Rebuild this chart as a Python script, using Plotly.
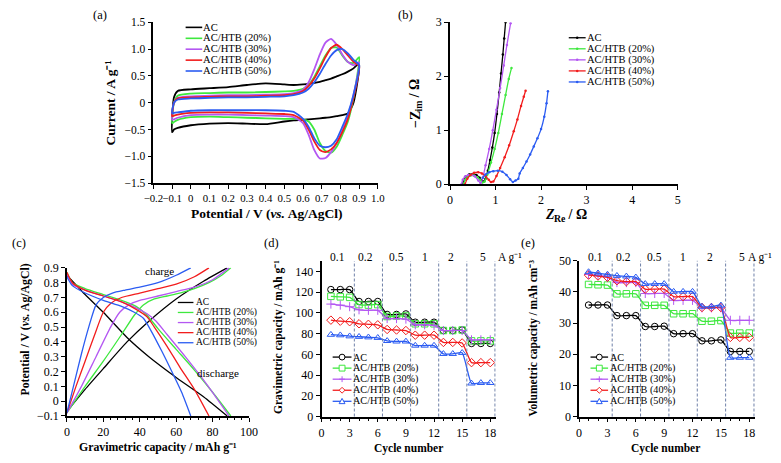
import plotly.graph_objects as go

W, H = 781, 463
FONT = "Liberation Serif, Times New Roman, serif"

names = ["AC", "AC/HTB (20%)", "AC/HTB (30%)", "AC/HTB (40%)", "AC/HTB (50%)"]
colors = ["#000000", "#3ee83e", "#b457f2", "#f21d1d", "#2b5cf2"]
symbols = ["circle-open", "square-open", "cross-thin-open", "diamond-open", "triangle-up-open"]

# ---------------- (a) cyclic voltammetry ----------------
cv_e_up = [-0.1, -0.09, -0.07, 0.0, 0.1, 0.2, 0.3, 0.4, 0.5, 0.55, 0.6, 0.63, 0.66, 0.69, 0.72, 0.75, 0.78, 0.81, 0.84, 0.87, 0.9]
cv_e_dn = [0.9, 0.87, 0.84, 0.81, 0.78, 0.75, 0.72, 0.69, 0.66, 0.63, 0.6, 0.55, 0.5, 0.4, 0.3, 0.2, 0.1, 0.0, -0.07, -0.09, -0.1]
cv_ac_up = [-0.55, 0.1, 0.22, 0.25, 0.27, 0.29, 0.33, 0.36, 0.34, 0.33, 0.34, 0.35, 0.37, 0.39, 0.42, 0.45, 0.49, 0.53, 0.58, 0.64, 0.73]
cv_ac_dn = [0.73, 0.0, -0.2, -0.23, -0.25, -0.27, -0.28, -0.29, -0.3, -0.31, -0.32, -0.33, -0.35, -0.4, -0.39, -0.38, -0.39, -0.42, -0.47, -0.5, -0.55]
cv_20_up = [-0.38, 0.0, 0.13, 0.17, 0.18, 0.19, 0.19, 0.2, 0.21, 0.22, 0.26, 0.33, 0.48, 0.68, 0.88, 1.02, 1.03, 0.88, 0.76, 0.74, 0.85]
cv_20_dn = [0.85, 0.1, -0.35, -0.6, -0.82, -0.93, -0.9, -0.75, -0.5, -0.35, -0.31, -0.3, -0.3, -0.29, -0.28, -0.27, -0.26, -0.27, -0.32, -0.36, -0.38]
cv_30_up = [-0.32, 0.0, 0.09, 0.12, 0.13, 0.14, 0.14, 0.15, 0.16, 0.18, 0.24, 0.38, 0.62, 0.9, 1.12, 1.19, 1.08, 0.9, 0.76, 0.7, 0.75]
cv_30_dn = [0.75, 0.15, -0.25, -0.52, -0.75, -0.92, -1.03, -1.04, -0.88, -0.6, -0.38, -0.27, -0.25, -0.24, -0.23, -0.22, -0.22, -0.23, -0.28, -0.31, -0.32]
cv_40_up = [-0.25, 0.0, 0.08, 0.1, 0.11, 0.12, 0.12, 0.13, 0.14, 0.16, 0.22, 0.31, 0.45, 0.64, 0.85, 1.02, 1.08, 1.0, 0.88, 0.76, 0.68]
cv_40_dn = [0.68, 0.1, -0.3, -0.55, -0.75, -0.87, -0.92, -0.88, -0.72, -0.5, -0.33, -0.23, -0.21, -0.2, -0.19, -0.18, -0.18, -0.19, -0.22, -0.24, -0.25]
cv_50_up = [-0.2, 0.0, 0.06, 0.08, 0.09, 0.1, 0.1, 0.11, 0.12, 0.14, 0.19, 0.26, 0.38, 0.54, 0.72, 0.88, 0.98, 1.0, 0.92, 0.8, 0.7]
cv_50_dn = [0.7, 0.15, -0.2, -0.45, -0.68, -0.8, -0.83, -0.8, -0.66, -0.45, -0.3, -0.17, -0.15, -0.14, -0.14, -0.14, -0.14, -0.15, -0.18, -0.19, -0.2]
cv_up = [cv_ac_up, cv_20_up, cv_30_up, cv_40_up, cv_50_up]
cv_dn = [cv_ac_dn, cv_20_dn, cv_30_dn, cv_40_dn, cv_50_dn]
cv_xticks = [-0.2, -0.1, 0, 0.1, 0.2, 0.3, 0.4, 0.5, 0.6, 0.7, 0.8, 0.9, 1.0]
cv_xtext = ["\u22120.2", "\u22120.1", "0", "0.1", "0.2", "0.3", "0.4", "0.5", "0.6", "0.7", "0.8", "0.9", "1.0"]
cv_yticks = [-1.5, -1.0, -0.5, 0, 0.5, 1.0, 1.5]
cv_ytext = ["\u22121.5", "\u22121.0", "\u22120.5", "0", "0.5", "1.0", "1.5"]

# ---------------- (b) Nyquist ----------------
eis_re_ac = [0.28, 0.30, 0.35, 0.42, 0.5, 0.58, 0.65, 0.70, 0.74, 0.78, 0.83, 0.88, 0.93, 0.98, 1.03, 1.08, 1.12, 1.16, 1.19, 1.22]
eis_im_ac = [0.0, 0.08, 0.14, 0.18, 0.19, 0.17, 0.12, 0.07, 0.05, 0.1, 0.25, 0.45, 0.68, 0.95, 1.3, 1.7, 2.05, 2.4, 2.7, 3.0]
eis_re_20 = [0.30, 0.33, 0.38, 0.45, 0.52, 0.6, 0.66, 0.71, 0.76, 0.82, 0.9, 0.98, 1.06, 1.14, 1.22, 1.29, 1.35]
eis_im_20 = [0.0, 0.08, 0.13, 0.16, 0.16, 0.13, 0.08, 0.03, 0.05, 0.18, 0.4, 0.65, 0.95, 1.3, 1.65, 1.95, 2.15]
eis_re_30 = [0.25, 0.28, 0.33, 0.4, 0.47, 0.55, 0.62, 0.67, 0.72, 0.78, 0.86, 0.94, 1.02, 1.1, 1.18, 1.25, 1.33]
eis_im_30 = [0.0, 0.08, 0.14, 0.17, 0.17, 0.14, 0.07, 0.02, 0.12, 0.35, 0.65, 1.0, 1.38, 1.78, 2.2, 2.58, 2.98]
eis_re_40 = [0.33, 0.38, 0.45, 0.53, 0.62, 0.7, 0.78, 0.85, 0.9, 0.95, 1.02, 1.1, 1.2, 1.3, 1.4, 1.48, 1.56, 1.62, 1.66]
eis_im_40 = [0.0, 0.1, 0.17, 0.21, 0.22, 0.2, 0.15, 0.08, 0.04, 0.05, 0.15, 0.3, 0.5, 0.72, 0.98, 1.2, 1.45, 1.62, 1.73]
eis_re_50 = [0.72, 0.78, 0.86, 0.95, 1.05, 1.15, 1.24, 1.32, 1.38, 1.44, 1.5, 1.53, 1.6, 1.68, 1.76, 1.84, 1.92, 2.0, 2.07, 2.12, 2.15]
eis_im_50 = [0.12, 0.18, 0.22, 0.24, 0.25, 0.23, 0.17, 0.09, 0.04, 0.07, 0.1, 0.2, 0.3, 0.42, 0.55, 0.7, 0.85, 1.02, 1.25, 1.5, 1.72]
eis_re = [eis_re_ac, eis_re_20, eis_re_30, eis_re_40, eis_re_50]
eis_im = [eis_im_ac, eis_im_20, eis_im_30, eis_im_40, eis_im_50]

# ---------------- (c) charge / discharge ----------------
ch_q_ac = [0, 10, 20, 33, 45, 60, 75, 88]
ch_v_ac = [-0.07, 0.08, 0.22, 0.40, 0.54, 0.69, 0.81, 0.9]
ch_q_20 = [0, 10, 20, 30, 37, 42, 48, 55, 62, 70, 78, 85, 90]
ch_v_20 = [-0.08, 0.1, 0.27, 0.45, 0.58, 0.65, 0.69, 0.71, 0.73, 0.76, 0.8, 0.85, 0.9]
ch_q_30 = [0, 8, 16, 24, 29, 34, 40, 50, 60, 70, 80, 89]
ch_v_30 = [-0.08, 0.1, 0.3, 0.5, 0.6, 0.65, 0.68, 0.71, 0.74, 0.77, 0.82, 0.9]
ch_q_40 = [0, 5, 10, 15, 20, 24, 30, 40, 50, 60, 70, 78]
ch_v_40 = [-0.08, 0.1, 0.27, 0.44, 0.6, 0.66, 0.7, 0.73, 0.76, 0.79, 0.84, 0.9]
ch_q_50 = [0, 4, 8, 12, 16, 20, 25, 32, 40, 50, 60, 68]
ch_v_50 = [-0.08, 0.12, 0.32, 0.5, 0.65, 0.7, 0.73, 0.75, 0.77, 0.8, 0.85, 0.9]
dc_q_ac = [0, 10, 20, 33, 45, 60, 75, 88]
dc_v_ac = [0.85, 0.72, 0.6, 0.43, 0.3, 0.16, 0.03, -0.1]
dc_q_20 = [0, 3, 10, 20, 30, 38, 44, 50, 60, 70, 80, 90]
dc_v_20 = [0.87, 0.8, 0.76, 0.72, 0.68, 0.64, 0.58, 0.49, 0.35, 0.21, 0.06, -0.1]
dc_q_30 = [0, 3, 10, 20, 30, 38, 44, 49, 55, 65, 77, 89]
dc_v_30 = [0.86, 0.79, 0.75, 0.71, 0.67, 0.63, 0.59, 0.54, 0.45, 0.3, 0.11, -0.1]
dc_q_40 = [0, 3, 10, 20, 30, 38, 44, 48, 55, 62, 70, 78]
dc_v_40 = [0.87, 0.8, 0.75, 0.71, 0.67, 0.62, 0.57, 0.5, 0.37, 0.23, 0.08, -0.1]
dc_q_50 = [0, 3, 10, 20, 30, 37, 42, 46, 52, 58, 63, 68]
dc_v_50 = [0.84, 0.78, 0.73, 0.68, 0.64, 0.6, 0.56, 0.48, 0.34, 0.19, 0.06, -0.1]
ch_q = [ch_q_ac, ch_q_20, ch_q_30, ch_q_40, ch_q_50]
ch_v = [ch_v_ac, ch_v_20, ch_v_30, ch_v_40, ch_v_50]
dc_q = [dc_q_ac, dc_q_20, dc_q_30, dc_q_40, dc_q_50]
dc_v = [dc_v_ac, dc_v_20, dc_v_30, dc_v_40, dc_v_50]
gcd_yticks = [-0.1, 0, 0.1, 0.2, 0.3, 0.4, 0.5, 0.6, 0.7, 0.8, 0.9]
gcd_ytext = ["\u22120.1", "0", "0.1", "0.2", "0.3", "0.4", "0.5", "0.6", "0.7", "0.8", "0.9"]

# ---------------- (d) & (e) rate capability ----------------
cycles = list(range(1, 19))
grav_ac = [122.5, 122.5, 122.5, 111, 111, 111, 98.5, 98.5, 99, 91, 91, 91, 83, 83, 83.5, 70.5, 70.5, 70.5]
grav_20 = [116, 115.5, 115, 108, 107.5, 108, 96.5, 97, 97, 89.5, 89.5, 89.5, 83, 83, 83.5, 73, 73, 73]
grav_30 = [108.5, 107.5, 106, 103, 102.5, 102.5, 94.5, 94.5, 94, 88.5, 88.5, 88, 83, 83, 83, 74, 74, 74]
grav_40 = [93, 92, 91.5, 89.5, 89, 88.5, 84, 83.5, 83, 78.5, 78.5, 78.5, 71.5, 71.5, 71, 52, 52, 52]
grav_50 = [79, 78.5, 77.5, 77, 76.5, 76, 73, 72.5, 72.5, 68.5, 68.5, 68.5, 60.5, 60.5, 61.5, 32, 32.5, 32.5]
vol_ac = [35.8, 35.8, 35.8, 32.4, 32.4, 32.4, 28.9, 28.9, 29.0, 26.6, 26.6, 26.6, 24.3, 24.3, 24.6, 20.9, 20.9, 20.9]
vol_20 = [42.4, 42.3, 42.2, 39.4, 39.4, 39.4, 35.7, 35.7, 35.7, 33.0, 33.0, 33.0, 30.6, 30.6, 30.8, 26.8, 26.8, 26.8]
vol_30 = [45.6, 45.2, 44.8, 43.0, 43.0, 43.0, 39.5, 39.5, 39.5, 37.3, 37.3, 37.3, 34.9, 34.9, 34.9, 30.9, 30.9, 30.9]
vol_40 = [45.4, 45.1, 44.7, 43.6, 43.3, 43.3, 40.9, 40.9, 40.9, 38.5, 38.5, 38.5, 35.0, 35.0, 35.0, 25.4, 25.4, 25.4]
vol_50 = [46.4, 46.0, 45.6, 45.2, 45.0, 44.7, 42.6, 42.6, 42.6, 40.1, 40.1, 40.1, 35.3, 35.3, 35.7, 18.9, 18.9, 18.9]
grav = [grav_ac, grav_20, grav_30, grav_40, grav_50]
vol = [vol_ac, vol_20, vol_30, vol_40, vol_50]
rate_labels = ["0.1", "0.2", "0.5", "1", "2", "5"]
rate_label_pos = [1.7, 4.7, 8.0, 11.0, 13.8, 17.2]
rate_bounds = [3.5, 6.5, 9.5, 12.5, 15.5, 18.5]
rate_unit = "A g\u207b\u00b9"

# ---------------- helpers ----------------
def px(x):
    return x / W


def py(y):
    return 1 - y / H


fig = go.Figure()

for i in range(5):
    fig.add_trace(go.Scatter(x=cv_e_up + cv_e_dn[1:], y=cv_up[i] + cv_dn[i][1:], mode="lines",
                             line=dict(color=colors[i], width=1.8, shape="spline", smoothing=0.6),
                             xaxis="x", yaxis="y", showlegend=False, name=names[i]))
for i in range(5):
    fig.add_trace(go.Scatter(x=eis_re[i], y=eis_im[i], mode="lines+markers",
                             line=dict(color=colors[i], width=1.3, shape="spline", smoothing=0.6),
                             marker=dict(size=2.5, color=colors[i]),
                             xaxis="x2", yaxis="y2", showlegend=False, name=names[i]))
for i in range(5):
    fig.add_trace(go.Scatter(x=ch_q[i], y=ch_v[i], mode="lines",
                             line=dict(color=colors[i], width=1.3, shape="spline", smoothing=0.6),
                             xaxis="x3", yaxis="y3", showlegend=False, name=names[i]))
    fig.add_trace(go.Scatter(x=dc_q[i], y=dc_v[i], mode="lines",
                             line=dict(color=colors[i], width=1.3, shape="spline", smoothing=0.6),
                             xaxis="x3", yaxis="y3", showlegend=False, name=names[i]))
for i in range(5):
    fig.add_trace(go.Scatter(x=cycles, y=grav[i], mode="lines+markers",
                             line=dict(color=colors[i], width=1.3, shape="spline", smoothing=0.5),
                             marker=dict(symbol=symbols[i], size=6.5, color=colors[i], line=dict(width=1, color=colors[i])),
                             xaxis="x4", yaxis="y4", showlegend=False, name=names[i]))
for i in range(5):
    fig.add_trace(go.Scatter(x=cycles, y=vol[i], mode="lines+markers",
                             line=dict(color=colors[i], width=1.3, shape="spline", smoothing=0.5),
                             marker=dict(symbol=symbols[i], size=6.5, color=colors[i], line=dict(width=1, color=colors[i])),
                             xaxis="x5", yaxis="y5", showlegend=False, name=names[i]))


def axis(dom, rng, anchor, size, **kw):
    d = dict(domain=dom, range=rng, anchor=anchor, showline=True, linecolor="black", linewidth=1.6,
             ticks="outside", ticklen=4, tickwidth=1.2, tickcolor="black", showgrid=False, zeroline=False,
             tickangle=0, tickfont=dict(family=FONT, size=size, color="black"))
    d.update(kw)
    return d


minor_x = dict(ticks="outside", ticklen=2.5, tickwidth=1, tickcolor="black")

layout = dict(
    width=W, height=H, margin=dict(l=0, r=0, t=0, b=0), paper_bgcolor="white", plot_bgcolor="rgba(0,0,0,0)",
    font=dict(family=FONT, color="black"), showlegend=False,
    xaxis=axis([px(147), px(377)], [-0.2, 1.0], "y", 10.8, tickvals=cv_xticks, ticktext=cv_xtext),
    yaxis=axis([py(181.7), py(15.7)], [-1.5, 1.5], "x", 11.5, tickvals=cv_yticks, ticktext=cv_ytext),
    xaxis2=axis([px(451), px(684.3)], [0, 5], "y2", 12, dtick=1),
    yaxis2=axis([py(182.7), py(15.7)], [0, 3], "x2", 12, dtick=1),
    xaxis3=axis([px(58.3), px(245)], [0, 100], "y3", 12, dtick=20, minor=dict(dtick=4, **minor_x)),
    yaxis3=axis([py(421.7), py(269)], [-0.1, 0.9], "x3", 12, tickvals=gcd_yticks, ticktext=gcd_ytext),
    xaxis4=axis([px(319.3), px(498)], [0, 18.6], "y4", 12, tickvals=[0, 3, 6, 9, 12, 15, 18], minor=dict(dtick=1, **minor_x)),
    yaxis4=axis([py(422.3), py(262)], [0, 150], "x4", 12, tickvals=[0, 20, 40, 60, 80, 100, 120, 140]),
    xaxis5=axis([px(583.3), px(763.5)], [0, 18.6], "y5", 12, tickvals=[0, 3, 6, 9, 12, 15, 18], minor=dict(dtick=1, **minor_x)),
    yaxis5=axis([py(422.3), py(261.7)], [0, 50], "x5", 12, dtick=10),
)

shapes = []
annotations = []


def text(x, y, s, size, angle=0, anchor="center", bold=False, italic=False):
    annotations.append(dict(x=px(x), y=py(y), xref="paper", yref="paper", text=s, showarrow=False,
                            xanchor=anchor, yanchor="middle", textangle=angle, borderpad=0,
                            font=dict(family=FONT, size=size, color="black", weight="bold" if bold else "normal",
                                      style="italic" if italic else "normal")))


# panel labels
for lab, x, y in [("(a)", 92, 8), ("(b)", 405, 8), ("(c)", 9, 243), ("(d)", 268, 243), ("(e)", 531, 243)]:
    text(x, y, lab, 12.5)

# axis titles
text(263, 213, "Potential / V (<i>vs.</i> Ag/AgCl)", 13.5, bold=True)
text(103, 99, "Current / A g\u207b\u00b9", 13.5, angle=-90, bold=True)
# Z_Re / Ohm (pieces so the subscript sits lower)
text(547.5, 214, "Z", 14, anchor="left", bold=True, italic=True)
text(556.5, 218, "Re", 9.8, anchor="left", bold=True)
text(568, 214, " / \u03a9", 14, anchor="left", bold=True)
# -Z_im / Ohm rotated
text(415, 115.5, "\u2212Z", 14, angle=-90, bold=True)
text(419, 101.8, "im", 9.8, angle=-90, bold=True)
text(415, 85.5, " / \u03a9", 14, angle=-90, bold=True)
text(152, 454, "Gravimetric capacity / mAh g\u207b\u00b9", 11.8, bold=True)
text(15, 333, "Potential / V (<i>vs.</i> Ag/AgCl)", 11.8, angle=-90, bold=True)
text(408, 455, "Cycle number", 11.5, bold=True)
text(275, 340, "Gravimetric capacity / mAh g\u207b\u00b9", 11.5, angle=-90, bold=True)
text(672, 455, "Cycle number", 11.5, bold=True)
text(537, 341, "Volumetric capacity / mAh cm\u207b\u00b3", 11.5, angle=-90, bold=True)

text(153, 272, "charge", 11)
text(213, 377, "discharge", 11)

# rate annotations and dashed separators
for xa, ya, unit_x in [("x4", "y4", 512), ("x5", "y5", 769)]:
    for b in rate_bounds:
        shapes.append(dict(type="line", xref=xa, yref=ya + " domain", x0=b, x1=b, y0=0, y1=1,
                           line=dict(color="#6f80a8", width=1, dash="3px,2px")))
    for lab, pos in zip(rate_labels, rate_label_pos):
        annotations.append(dict(x=pos, y=py(258.3), xref=xa, yref="paper", text=lab, showarrow=False,
                                xanchor="center", yanchor="middle", borderpad=0,
                                font=dict(family=FONT, size=11.5, color="black")))
    text(unit_x, 258.3, rate_unit, 11.5)


def marker_shape(sym, cx, cy, r, col):
    x0, x1 = px(cx - r), px(cx + r)
    y0, y1 = py(cy + r), py(cy - r)
    ln = dict(color=col, width=1)
    if sym.startswith("circle"):
        shapes.append(dict(type="circle", xref="paper", yref="paper", x0=x0, x1=x1, y0=y0, y1=y1, line=ln,
                           fillcolor="white"))
    elif sym.startswith("square"):
        shapes.append(dict(type="rect", xref="paper", yref="paper", x0=x0, x1=x1, y0=y0, y1=y1, line=ln,
                           fillcolor="white"))
    elif sym.startswith("diamond"):
        p = "M {a},{b} L {c},{d} L {a},{e} L {f},{d} Z".format(a=px(cx), b=py(cy - r), c=px(cx + r), d=py(cy),
                                                                e=py(cy + r), f=px(cx - r))
        shapes.append(dict(type="path", xref="paper", yref="paper", path=p, line=ln, fillcolor="white"))
    elif sym.startswith("triangle"):
        p = "M {a},{b} L {c},{d} L {e},{d} Z".format(a=px(cx), b=py(cy - r), c=px(cx + r), d=py(cy + r * 0.8),
                                                      e=px(cx - r))
        shapes.append(dict(type="path", xref="paper", yref="paper", path=p, line=ln, fillcolor="white"))
    elif sym.startswith("cross"):
        p = "M {a},{b} L {a},{c} M {d},{e} L {f},{e}".format(a=px(cx), b=py(cy - r), c=py(cy + r), d=px(cx - r),
                                                             e=py(cy), f=px(cx + r))
        shapes.append(dict(type="path", xref="paper", yref="paper", path=p, line=ln))
    elif sym == "dot":
        shapes.append(dict(type="circle", xref="paper", yref="paper", x0=x0, x1=x1, y0=y0, y1=y1, line=dict(width=0),
                           fillcolor=col))


def legend(x0, x1, xt, rows, size, syms=None, r=3, lw=1.6):
    for i in range(5):
        y = rows[i]
        shapes.append(dict(type="line", xref="paper", yref="paper", x0=px(x0), x1=px(x1), y0=py(y), y1=py(y),
                           line=dict(color=colors[i], width=lw)))
        if syms is not None:
            marker_shape(syms[i], (x0 + x1) / 2, y, r, colors[i])
        text(xt, y, names[i], size, anchor="left")


legend(180, 197, 197, [21, 32.3, 43.5, 54.8, 66], 10.6)
legend(572.7, 590, 590, [31.7, 43.1, 54.5, 65.9, 77.3], 10.5, syms=["dot"] * 5, r=1.3, lw=1.3)
legend(172, 188, 190, [304.7, 315, 325.4, 335.8, 346.2], 9.5, lw=1.3)
legend(330.7, 350, 350.5, [361, 372.4, 383.8, 395.2, 406.6], 10.2, syms=symbols, r=3, lw=1.3)
legend(595, 613, 613.5, [361, 372.4, 383.8, 395.2, 406.6], 10.2, syms=symbols, r=3, lw=1.3)

layout["shapes"] = shapes
layout["annotations"] = annotations
fig.update_layout(**layout)
fig.write_html("out.html")
